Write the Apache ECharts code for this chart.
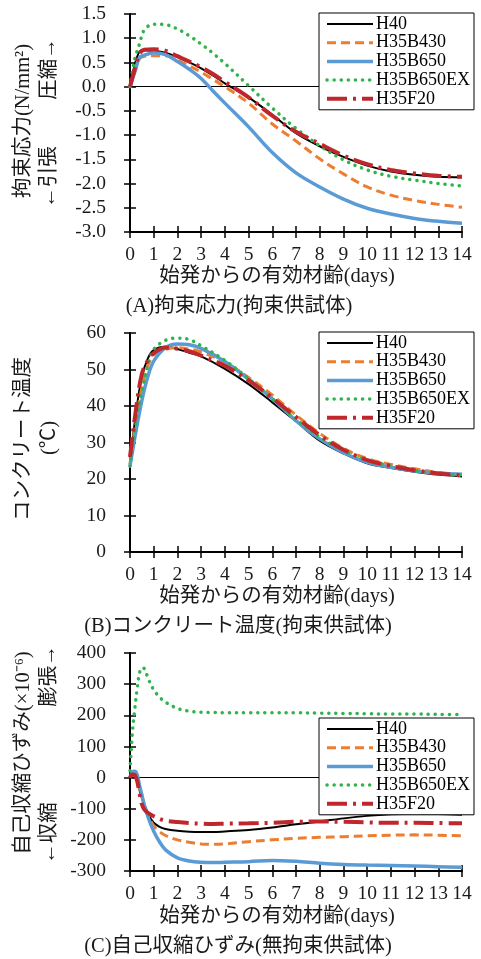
<!DOCTYPE html>
<html>
<head>
<meta charset="utf-8">
<script src="https://cdn.jsdelivr.net/npm/echarts@6/dist/echarts.min.js"></script>
<style>
  html, body { margin: 0; padding: 0; background: #fff; }
  #main { width: 481px; height: 959px; }
</style>
</head>
<body>
<div id="main"></div>
<script>
  // (A) 拘束応力
  const daysA = [0, 0.2, 0.4, 0.6, 1, 1.5, 2, 2.5, 3, 3.5, 4, 5, 6, 7, 8, 9, 10, 11, 12, 13, 14]
  const stressH40 = [0, 0.45, 0.72, 0.75, 0.74, 0.70, 0.61, 0.50, 0.38, 0.23, 0.07, -0.22, -0.58, -0.96, -1.23, -1.45, -1.63, -1.75, -1.82, -1.86, -1.87]
  const stressB430 = [0, 0.30, 0.58, 0.63, 0.64, 0.64, 0.55, 0.43, 0.30, 0.15, 0.0, -0.34, -0.77, -1.12, -1.49, -1.80, -2.07, -2.24, -2.35, -2.43, -2.49]
  const stressB650 = [0, 0.30, 0.60, 0.65, 0.70, 0.66, 0.52, 0.36, 0.17, -0.09, -0.34, -0.83, -1.36, -1.78, -2.07, -2.32, -2.51, -2.63, -2.72, -2.78, -2.82]
  const stressB650EX = [0, 0.57, 0.88, 1.17, 1.29, 1.28, 1.19, 1.05, 0.88, 0.69, 0.48, 0.02, -0.44, -0.86, -1.22, -1.51, -1.72, -1.85, -1.93, -2.00, -2.05]
  const stressF20 = [0, 0.36, 0.68, 0.76, 0.77, 0.74, 0.63, 0.52, 0.40, 0.26, 0.10, -0.22, -0.60, -0.93, -1.18, -1.42, -1.60, -1.72, -1.79, -1.84, -1.86]

  // (B) コンクリート温度
  const daysB = [0, 0.25, 0.5, 0.75, 1, 1.5, 2, 2.5, 3, 4, 5, 6, 7, 8, 9, 10, 11, 12, 13, 14]
  const tempH40 = [24.5, 38, 48, 53, 55.3, 56.2, 55.6, 54.6, 53.6, 50.2, 46, 41, 35.8, 30.5, 27.0, 24.3, 23.0, 22.0, 21.2, 20.7]
  const tempB430 = [24, 36, 45, 51, 54, 55.5, 56, 55.6, 54.8, 52, 47.8, 43, 37.5, 32.5, 28.4, 25.6, 24, 22.8, 21.8, 21.2]
  const tempB650 = [23.5, 33, 41.5, 48, 52.3, 56, 57, 56.8, 55.8, 52.2, 47.3, 42, 36, 31, 27.2, 24.6, 23.2, 22.2, 21.6, 21.3]
  const tempB650EX = [23.5, 35, 44, 51, 55.5, 58, 58.6, 58.2, 56.5, 52.5, 47.5, 42, 36.4, 31.5, 27.8, 25.2, 23.6, 22.3, 21.5, 21.0]
  const tempF20 = [26, 39, 48.8, 52.5, 54.5, 56, 55.7, 55, 53.8, 51, 47, 42.2, 37, 32, 28, 25.2, 23.6, 22.4, 21.5, 21.0]

  // (C) 自己収縮ひずみ
  const daysC = [0, 0.1, 0.2, 0.3, 0.4, 0.5, 0.6, 0.8, 1, 1.25, 1.5, 2, 2.5, 3, 3.5, 4, 5, 6, 7, 8, 9, 10, 11, 12, 13, 14]
  const strainH40 = [0, 8, 10, -5, -40, -65, -85, -122, -145, -158, -165, -171, -174, -175, -175, -173, -168, -160, -150, -141, -131, -123, -118, -116, -117, -119]
  const strainB430 = [0, 8, 10, -5, -35, -60, -85, -128, -155, -174, -186, -200, -208, -213, -214, -213, -206, -200, -195, -192, -190, -187, -185, -184, -185, -187]
  const strainB650 = [0, 18, 20, 10, -25, -55, -88, -135, -172, -207, -232, -258, -268, -272, -273, -272, -270, -266, -269, -275, -279, -281, -282, -284, -286, -288]
  const strainB650EX = [22, 144, 220, 285, 335, 353, 350, 312, 282, 258, 242, 222, 213, 210, 209, 208, 208, 208, 208, 207, 206, 205, 204, 204, 203, 202]
  const strainF20 = [0, 10, 8, -10, -50, -85, -102, -116, -124, -133, -139, -143, -146, -148, -149, -148, -147, -145, -142, -141, -142, -144, -145, -145, -146, -147]

  const dayTicks = [0, 14, 1]
  const yRanges = [[-3, 1.5, 0.5], [0, 60, 10], [-300, 400, 100]]
  const seriesNames = ['H40', 'H35B430', 'H35B650', 'H35B650EX', 'H35F20']

  const FONT = "'Liberation Serif', 'Noto Sans CJK JP', serif"
  const lineStyles = [
    { color: '#000000', width: 2, type: 'solid' },
    { color: '#ED7D31', width: 3, type: [9, 5] },
    { color: '#5B9BD5', width: 3.5, type: 'solid' },
    { color: '#2FB34B', width: 3.5, type: [0.1, 7], cap: 'round' },
    { color: '#C0272D', width: 4, type: [20, 6, 3, 6] }
  ]
  const grids = [
    { left: 130, top: 14, width: 332, height: 218 },
    { left: 130, top: 333, width: 332, height: 219 },
    { left: 130, top: 653, width: 332, height: 218 }
  ]
  const legendTops = [13, 332, 718]

  function pairs(xs, ys) {
    return xs.map((x, i) => [x, ys[i]])
  }

  const panels = [
    { days: daysA, data: [stressH40, stressB430, stressB650, stressB650EX, stressF20], zero: true, dec: 1 },
    { days: daysB, data: [tempH40, tempB430, tempB650, tempB650EX, tempF20], zero: false, dec: 0 },
    { days: daysC, data: [strainH40, strainB430, strainB650, strainB650EX, strainF20], zero: true, dec: 0 }
  ]

  let chart = echarts.init(document.getElementById('main'), null, { renderer: 'canvas' })

  let xAxis = []
  let yAxis = []
  let series = []
  let legend = []

  panels.forEach((p, g) => {
    const yr = yRanges[g]
    // main axes (labels + outer ticks)
    xAxis.push({
      gridIndex: g, type: 'value', min: dayTicks[0], max: dayTicks[1], interval: dayTicks[2],
      position: 'bottom',
      axisLine: { onZero: false, lineStyle: { color: '#000', width: 2 } },
      axisTick: { length: 6, lineStyle: { color: '#000', width: 1.5 } },
      axisLabel: { color: '#1a1a1a', fontFamily: FONT, fontSize: 19.5, margin: 13 },
      splitLine: { show: false }
    })
    yAxis.push({
      gridIndex: g, type: 'value', min: yr[0], max: yr[1], interval: yr[2],
      position: 'left',
      axisLine: { onZero: false, lineStyle: { color: '#000', width: 2 } },
      axisTick: { length: 6, lineStyle: { color: '#000', width: 1.5 } },
      axisLabel: {
        color: '#1a1a1a', fontFamily: FONT, fontSize: 19.5, margin: 24,
        formatter: v => v.toFixed(p.dec)
      },
      splitLine: { show: false }
    })
    p.data.forEach((vals, i) => {
      const ls = lineStyles[i]
      let s = {
        name: seriesNames[i],
        type: 'line',
        xAxisIndex: g,
        yAxisIndex: g,
        data: pairs(p.days, vals),
        smooth: 0.35,
        symbol: 'none',
        showSymbol: false,
        lineStyle: { color: ls.color, width: ls.width, type: ls.type, cap: ls.cap || 'butt' },
        itemStyle: { color: ls.color },
        emphasis: { disabled: true },
        z: 3 + i
      }
      if (i === 0 && p.zero) {
        s.markLine = {
          silent: true, symbol: 'none', animation: false,
          label: { show: false },
          lineStyle: { color: '#000', width: 1, type: 'solid' },
          data: [{ yAxis: 0 }]
        }
      }
      series.push(s)
    })
    legend.push({
      data: seriesNames,
      orient: 'vertical',
      left: 319,
      top: legendTops[g],
      itemWidth: 46,
      itemHeight: 12,
      itemGap: 0.7,
      padding: [2, 4, 2, 6],
      backgroundColor: '#fff',
      borderColor: '#000',
      borderWidth: 1,
      borderRadius: 0,
      selectedMode: false,
      itemStyle: { opacity: 0 },
      lineStyle: { width: 'inherit' },
      textStyle: { color: '#000', fontFamily: FONT, fontSize: 18, lineHeight: 18, padding: [0, 0, 0, -2] },
      z: 10
    })
  })

  // inner ticks (ticks cross the axis line)
  panels.forEach((p, g) => {
    const yr = yRanges[g]
    xAxis.push({
      gridIndex: g, type: 'value', min: dayTicks[0], max: dayTicks[1], interval: dayTicks[2],
      position: 'bottom',
      axisLine: { show: false, onZero: false },
      axisTick: { inside: true, length: 6, lineStyle: { color: '#000', width: 1.5 } },
      axisLabel: { show: false },
      splitLine: { show: false }
    })
    yAxis.push({
      gridIndex: g, type: 'value', min: yr[0], max: yr[1], interval: yr[2],
      position: 'left',
      axisLine: { show: false, onZero: false },
      axisTick: { inside: true, length: 6, lineStyle: { color: '#000', width: 1.5 } },
      axisLabel: { show: false },
      splitLine: { show: false }
    })
  })

  function txt(text, x, y, size, rot) {
    return {
      type: 'text', x: x, y: y, rotation: rot || 0, z: 20,
      style: { text: text, font: size + 'px ' + FONT, fill: '#1a1a1a', align: 'center', verticalAlign: 'middle' }
    }
  }

  const R = Math.PI / 2
  let graphic = [
    txt('始発からの有効材齢(days)', 277, 277, 20.5),
    txt('(A)拘束応力(拘束供試体)', 239, 307, 20.5),
    txt('拘束応力(N/mm²)', 24, 121, 20.5, R),
    txt('←引張', 50, 177, 20.5, R),
    txt('圧縮→', 50, 69, 20.5, R),

    txt('始発からの有効材齢(days)', 277, 597, 20.5),
    txt('(B)コンクリート温度(拘束供試体)', 238, 627, 20.5),
    txt('コンクリート温度', 24, 439, 20.5, R),
    txt('(℃)', 50, 438, 20.5, R),

    txt('始発からの有効材齢(days)', 277, 917, 20.5),
    txt('(C)自己収縮ひずみ(無拘束供試体)', 238, 947, 20.5),
    txt('自己収縮ひずみ(×10⁻⁶)', 24, 753, 20.5, R),
    txt('膨張→', 50, 676, 20.5, R),
    txt('←収縮', 50, 833, 20.5, R)
  ]

  let option = {
    animation: false,
    backgroundColor: '#fff',
    grid: grids,
    xAxis: xAxis,
    yAxis: yAxis,
    legend: legend,
    series: series,
    graphic: graphic
  }
  chart.setOption(option)
</script>
</body>
</html>
